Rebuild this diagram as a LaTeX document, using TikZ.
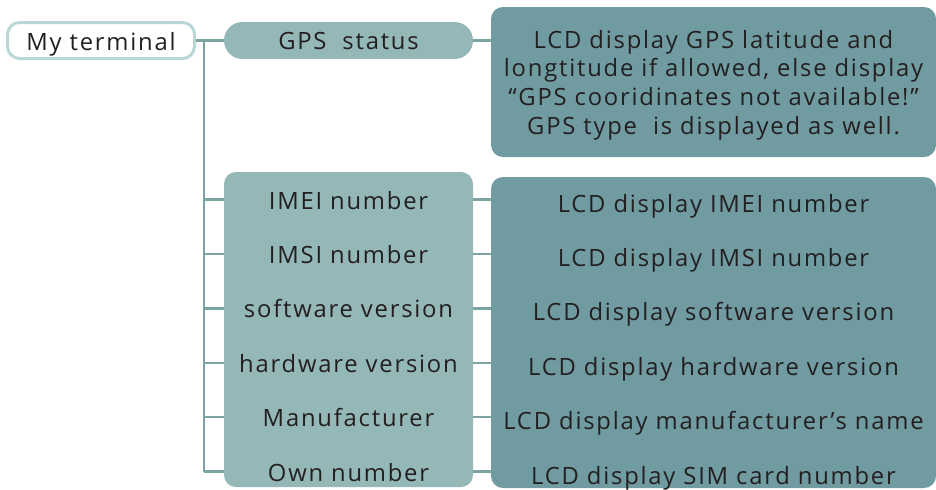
\documentclass[tikz,border=0pt]{standalone}
\usepackage{fontspec}
\setmainfont{Open Sans}[LetterSpace=7.5]
\usetikzlibrary{positioning,calc}
\definecolor{tealline}{RGB}{122,163,161}
\definecolor{rootedge}{RGB}{186,214,214}
\definecolor{topicfill}{RGB}{148,183,183}
\definecolor{infofill}{RGB}{112,155,161}
\definecolor{inkgrey}{RGB}{35,31,32}

\begin{document}
\begin{tikzpicture}[
            font=\fontsize{11.9}{14.35}\selectfont,
            text=inkgrey,
            node distance=14pt,
            root/.style={draw=rootedge, line width=1.5pt, fill=white, rounded corners=6pt,
            minimum width=93.5pt, minimum height=18pt, inner sep=0pt,
            text height=9.5pt, text depth=0pt},
            topic/.style={fill=topicfill, rounded corners=9.25pt, outer sep=0pt,
            minimum width=124.5pt, minimum height=18.5pt, inner sep=0pt,
            text height=9.3pt, text depth=0pt},
            group/.style={fill=topicfill, rounded corners=6pt, outer sep=0pt,
            minimum width=124.5pt, minimum height=157.5pt, inner sep=0pt},
            info/.style={fill=infofill, rounded corners=6pt, outer sep=0pt,
            minimum width=222.5pt, inner sep=0pt, align=center},
            lbl/.style={inner sep=0pt, text height=11.5pt, text depth=2pt},
            link/.style={draw=tealline, line width=1.2pt}
        ]
\useasboundingbox (0,0) rectangle (468pt,-244.5pt);

% --- root and GPS branch ---
            \node[root] (term) at (50.5pt,-20.25pt) {My terminal};
            \node[topic, right=of term]                          (gps)     {GPS~~status};
            \node[info, minimum height=75pt,
                  below right=-7.5pt and 9pt of gps.north east]  (gpsinfo) {\rule{0pt}{12pt}LCD display GPS latitude and\\
                  longtitude if allowed, else display\\
                  “GPS cooridinates not available!”\\
                  GPS type~~is displayed as well.};

% --- the other branches, grouped ---
            \node[group, below right=56.5pt and 0pt of gps.south west]   (items)   {};
            \node[info, minimum height=155.5pt,
                  below right=2.5pt and 9pt of items.north east]          (details) {};

% item labels
            \node[lbl] (l1) at ($(items.north)+(0,-13.75pt)$) {IMEI number};
            \foreach \i/\j/\txt in {2/1/IMSI number, 3/2/software version,
                    4/3/hardware version, 5/4/Manufacturer, 6/5/Own number}
                \node[lbl, below=13.3pt of l\j] (l\i) {\txt};

% what the LCD shows for each item
            \foreach \i/\txt in {1/LCD display IMEI number, 2/LCD display IMSI number,
                    3/LCD display software version, 4/LCD display hardware version,
                    5/LCD display manufacturer’s name, 6/LCD display SIM card number}
                \node[lbl] (d\i) at ($(details.north |- l\i)+(0,-1.5pt)$) {\txt};

% connectors
            \coordinate[right=4pt of term] (trunk);
            \draw[link] (term) -- (gps);
            \draw[link] (gps.east) -- (gps.east -| gpsinfo.west);
            \draw[link] (trunk) -- (trunk |- l6);
            \foreach \i in {1,...,6} {
                \draw[link] (trunk |- l\i) -- (items.west |- l\i);
                \draw[link] (items.east |- l\i) -- (details.west |- l\i);
            }
        \end{tikzpicture}
\end{document}
